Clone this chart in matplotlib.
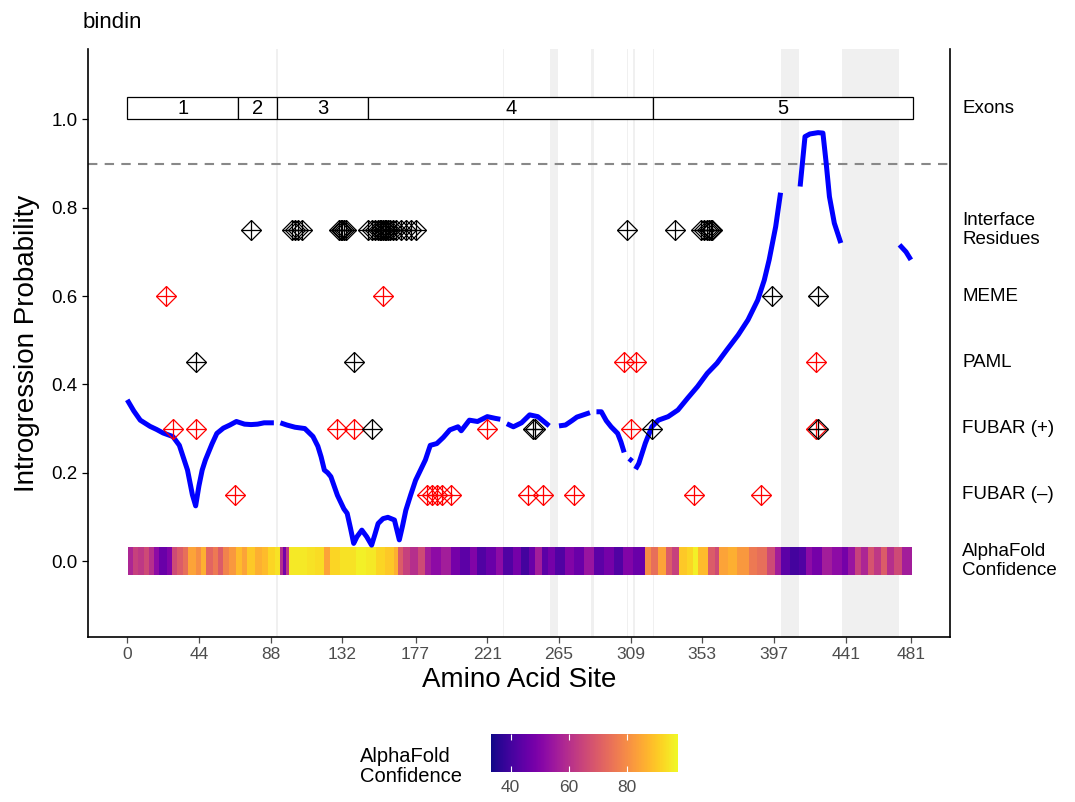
# Introgression probability along bindin, with selection / interface tracks

import numpy as np
import matplotlib.pyplot as plt
from matplotlib.patches import Rectangle

plt.rcParams['font.family'] = ['Liberation Sans', 'DejaVu Sans']

# introgression probability (nan = gap in alignment)
prob_sites = [0, 4, 8, 14, 18, 22, 28, 32, 37, 40, 42, 44, 46, 48, 52, 55, 59, 63, 67, 72,
              76, 80, 84, 90, 92, 94, 98, 103, 109, 114, 117, 119, 121, 123, 125, 129, 133,
              135, 137, 139, 141, 144, 147, 150, 152, 154, 157, 160, 164, 167, 169, 171, 174,
              177, 180, 183, 186, 190, 194, 198, 203, 205, 210, 215, 221, 226, 229, 231, 233,
              237, 242, 247, 252, 256, 259, 261, 265, 269, 273, 276, 280, 284, 286, 288, 291,
              294, 297, 301, 303, 305, 307, 308, 310, 311, 312, 314, 318, 322, 326, 332, 338,
              344, 350, 356, 362, 368, 375, 381, 387, 391, 394, 398, 401, 402, 413, 416, 419,
              424, 427, 429, 431, 434, 438, 440, 474, 478, 481]
prob_vals = [0.365, 0.34, 0.319, 0.305, 0.298, 0.29, 0.282, 0.262, 0.206, 0.15, 0.125, 0.17,
             0.206, 0.229, 0.265, 0.289, 0.301, 0.308, 0.316, 0.31, 0.309, 0.31, 0.313, 0.313,
             np.nan, 0.313, 0.308, 0.303, 0.300, 0.282, 0.26, 0.236, 0.206, 0.2, 0.191, 0.149,
             0.118, 0.108, 0.075, 0.04, 0.055, 0.07, 0.055, 0.036, 0.06, 0.085, 0.096, 0.099,
             0.093, 0.048, 0.08, 0.115, 0.15, 0.183, 0.206, 0.229, 0.262, 0.266, 0.28, 0.297,
             0.304, 0.295, 0.319, 0.316, 0.327, 0.323, 0.321, np.nan, 0.311, 0.304, 0.313,
             0.331, 0.327, 0.315, 0.306, np.nan, 0.306, 0.308, 0.318, 0.326, 0.331, 0.336,
             np.nan, 0.338, 0.338, 0.318, 0.304, 0.289, 0.27, 0.246, np.nan, 0.232, 0.226,
             np.nan, 0.208, 0.221, 0.267, 0.304, 0.319, 0.327, 0.342, 0.369, 0.395, 0.425,
             0.448, 0.478, 0.512, 0.546, 0.591, 0.636, 0.682, 0.757, 0.834, np.nan, 0.848,
             0.961, 0.967, 0.970, 0.969, 0.901, 0.825, 0.765, 0.72, np.nan, 0.716, 0.70, 0.682]

# gap regions (shaded)
gap_starts = [91.5, 230.5, 259.5, 284.5, 306.5, 310.5, 322.5, 401.5, 438.5]
gap_ends = [92.5, 231.5, 264.5, 286.5, 307.5, 311.5, 323.5, 412.5, 473.5]

# exons
exon_starts = [0, 68, 92, 148, 323]
exon_ends = [68, 92, 148, 323, 482]
exon_labels = ['1', '2', '3', '4', '5']

# site tracks
interface_black = [76, 101, 103, 105, 107, 130, 131, 132, 133, 134, 148, 150, 152, 154, 155,
                   156, 157, 158, 159, 160, 161, 163, 165, 168, 171, 174, 177, 307, 336, 352,
                   354, 356, 357, 358, 359]
meme_red = [24, 157]
meme_black = [396, 424]
paml_red = [305, 312, 423]
paml_black = [42, 139]
fubar_pos_red = [28, 42, 129, 139, 221, 309, 423]
fubar_pos_black = [150, 249, 250, 322, 424]
fubar_neg_red = [66, 184, 187, 190, 193, 199, 246, 255, 274, 348, 389]

track_names = ['Exons', 'Interface\nResidues', 'MEME', 'PAML', 'FUBAR (+)', 'FUBAR (\u2013)',
               'AlphaFold\nConfidence']
track_y = [1.025, 0.75, 0.6, 0.45, 0.3, 0.15, 0.0]

# AlphaFold pLDDT, run-length (last site of run, value)
plddt_run_ends = [3, 6, 10, 13, 16, 19, 24, 27, 30, 34, 37, 42, 45, 48, 52, 55, 58, 62, 66,
                  70, 73, 78, 82, 86, 90, 93, 95, 97, 99, 110, 115, 120, 124, 130, 140, 146,
                  152, 158, 163, 166, 169, 173, 178, 182, 186, 192, 198, 204, 210, 214, 220,
                  226, 230, 236, 241, 246, 250, 254, 258, 262, 268, 274, 280, 286, 292, 298,
                  304, 310, 317, 321, 325, 330, 334, 338, 343, 347, 350, 356, 360, 363, 368,
                  374, 381, 386, 392, 397, 401, 406, 412, 416, 420, 426, 432, 438, 442, 446,
                  450, 454, 458, 462, 466, 470, 475, 481]
plddt_run_vals = [58, 64, 62, 66, 60, 52, 46, 50, 66, 70, 74, 84, 80, 86, 72, 76, 70, 78, 82,
                  88, 84, 90, 86, 88, 92, 94, 60, 48, 62, 95, 94, 93, 84, 92, 94, 96, 95, 92,
                  90, 86, 70, 64, 60, 66, 56, 52, 56, 48, 44, 50, 42, 46, 52, 42, 48, 40, 46,
                  56, 44, 48, 42, 50, 46, 54, 44, 48, 42, 50, 46, 80, 74, 84, 70, 64, 90, 92,
                  96, 88, 70, 66, 84, 86, 82, 76, 74, 66, 56, 44, 40, 42, 52, 48, 56, 52, 48,
                  54, 64, 58, 68, 62, 70, 60, 66, 56]

x_ticks = [0, 44, 88, 132, 177, 221, 265, 309, 353, 397, 441, 481]

run_lengths = np.diff([0] + plddt_run_ends)
plddt = np.repeat(plddt_run_vals, run_lengths)

fig = plt.figure(figsize=(10.75, 8.02), dpi=100)
ax = fig.add_axes([0.0819, 0.2057, 0.8019, 0.733])

for s, e in zip(gap_starts, gap_ends):
    ax.axvspan(s, e, color='#f0f0f0', lw=0, zorder=0)

ax.axhline(0.9, color='#888888', lw=1.5, ls=(0, (4.5, 3.5)), zorder=1)

# exon boxes
for s, e, lab in zip(exon_starts, exon_ends, exon_labels):
    ax.add_patch(Rectangle((s, 1.0), e - s, 0.05, facecolor='white', edgecolor='black',
                           lw=0.9, zorder=2))
    ax.text((s + e) / 2, 1.025, lab, ha='center', va='center', fontsize=14.5, zorder=3)

# alphafold strip
edges = np.arange(0.5, len(plddt) + 1)
mesh = ax.pcolormesh(edges, [-0.031, 0.031], plddt[np.newaxis, :], cmap='plasma',
                     vmin=33.2, vmax=97.5, zorder=2)

ax.plot(prob_sites, prob_vals, color='#0000ff', lw=3.6, solid_capstyle='butt', zorder=3)


def diamonds(xs, y, color):
    ys = [y] * len(xs)
    ax.plot(xs, ys, ls='none', marker='D', ms=9.8, mfc='none', mec=color, mew=0.9, zorder=4)
    ax.plot(xs, ys, ls='none', marker='+', ms=14, mec=color, mew=0.9, zorder=4)


diamonds(interface_black, 0.75, 'black')
diamonds(meme_red, 0.6, '#ff0000')
diamonds(meme_black, 0.6, 'black')
diamonds(paml_red, 0.45, '#ff0000')
diamonds(paml_black, 0.45, 'black')
diamonds(fubar_pos_red, 0.3, '#ff0000')
diamonds(fubar_pos_black, 0.3, 'black')
diamonds(fubar_neg_red, 0.15, '#ff0000')

for name, y in zip(track_names, track_y):
    ax.text(1.014, y, name, transform=ax.get_yaxis_transform(), ha='left', va='center',
            fontsize=13.5, linespacing=1.15, clip_on=False)

ax.set_xlim(-24.05, 505.05)
ax.set_ylim(-0.172, 1.159)
ax.set_xticks(x_ticks)
ax.set_yticks([0.0, 0.2, 0.4, 0.6, 0.8, 1.0])
ax.set_yticklabels(['0.0', '0.2', '0.4', '0.6', '0.8', '1.0'])
ax.tick_params(axis='x', labelsize=12.5, colors='#4d4d4d', length=4, width=0.9)
ax.tick_params(axis='y', labelsize=13.5, labelcolor='black', length=4, width=0.9)
ax.spines['top'].set_visible(False)
for side in ['left', 'bottom', 'right']:
    ax.spines[side].set_linewidth(1.2)
ax.set_xlabel('Amino Acid Site', fontsize=20, labelpad=3)
ax.set_ylabel('Introgression Probability', fontsize=20, labelpad=8)
fig.text(0.077, 0.972, 'bindin', fontsize=16, ha='left', va='center')

# colorbar legend
cax = fig.add_axes([0.4567, 0.0374, 0.174, 0.0474])
cb = fig.colorbar(mesh, cax=cax, orientation='horizontal', ticks=[40, 60, 80])
cb.outline.set_visible(False)
cax.tick_params(direction='in', color='white', length=4, width=0.8, top=True, bottom=True,
                labelsize=12.5, labelcolor='#4d4d4d', pad=6)
fig.text(0.335, 0.044, 'AlphaFold\nConfidence', fontsize=14.5, ha='left', va='center',
         linespacing=1.1)

fig.savefig('out.png', dpi=100)
